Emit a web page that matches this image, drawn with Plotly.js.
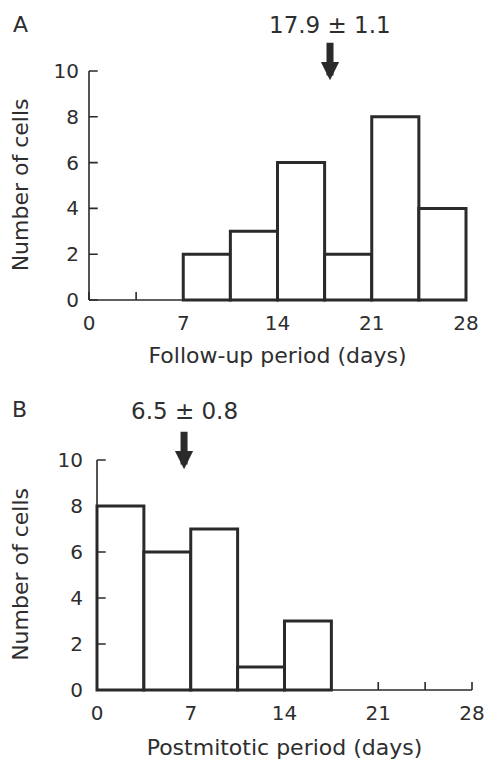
<!DOCTYPE html>
<html>
<head>
<meta charset="utf-8">
<script src="https://cdn.plot.ly/plotly-3.0.1.min.js"></script>
<style>html,body{margin:0;padding:0;background:#fff;}#chart{width:484px;height:764px;}</style>
</head>
<body>
<div id="chart"></div>
<script>
// ---- data ----
const binEdges = [0, 3.5, 7, 10.5, 14, 17.5, 21, 24.5, 28];
const countsA = [0, 0, 2, 3, 6, 2, 8, 4];      // Follow-up period
const countsB = [8, 6, 7, 1, 3, 0, 0, 0];      // Postmitotic period
const meanA = 17.9, semA = 1.1;
const meanB = 6.5, semB = 0.8;
const xTickVals = [0, 7, 14, 21, 28];
const yTickVals = [0, 2, 4, 6, 8, 10];
const panelLabels = ['A', 'B'];
const xTitles = ['Follow-up period (days)', 'Postmitotic period (days)'];
const yTitle = 'Number of cells';

// ---- styling / geometry ----
const W = 484, H = 764;
const ink = '#2a2a2a', txt = '#2e2e2e';
const fam = 'DejaVu Sans, Liberation Sans, Arial, sans-serif';
const tickFont = {family: fam, size: 20, color: txt};
const titleFont = {family: fam, size: 22, color: txt};
const noteFont = {family: fam, size: 23, color: txt};
const letterFont = {family: fam, size: 22, color: txt};
const XMAX = 28, YMAX = 10, XPAD = 0.3, YPADLO = 0.15, YPADHI = 0.2;
// pixel positions of data (0,0) and (28,10) for each panel, plus label positions
const panels = [
  {x0: 89, x1: 466, y0: 300, y1: 71, noteY: 25, letterX: 20, letterY: 24,
   yLabStand: 5, yTitleStand: 18, xTitleStand: 13},
  {x0: 97, x1: 472, y0: 690, y1: 460, noteY: 411, letterX: 19, letterY: 409,
   yLabStand: 9, yTitleStand: 22, xTitleStand: 15}
];

const centers = binEdges.slice(0, -1).map((e, i) => (e + binEdges[i + 1]) / 2);
const binW = binEdges[1] - binEdges[0];

function domains(p) {
  const ppx = (p.x1 - p.x0) / XMAX, ppy = (p.y0 - p.y1) / YMAX;
  const l = p.x0 - XPAD * ppx, r = p.x1 + XPAD * ppx;
  const b = p.y0 + YPADLO * ppy, t = p.y1 - YPADHI * ppy;
  return {x: [l / W, r / W], y: [1 - b / H, 1 - t / H]};
}

const traces = [countsA, countsB].map((c, k) => ({
  type: 'bar',
  x: centers,
  y: c.map(v => v === 0 ? null : v),
  width: c.map(() => binW),
  xaxis: k === 0 ? 'x' : 'x2',
  yaxis: k === 0 ? 'y' : 'y2',
  marker: {color: '#ffffff', line: {color: ink, width: 3}},
  hoverinfo: 'x+y',
  showlegend: false
}));

const layout = {
  width: W, height: H,
  margin: {l: 0, r: 0, t: 0, b: 0},
  paper_bgcolor: '#fff', plot_bgcolor: 'rgba(0,0,0,0)',
  font: tickFont,
  showlegend: false,
  shapes: [],
  annotations: []
};

panels.forEach((p, k) => {
  const d = domains(p);
  const xa = k === 0 ? 'xaxis' : 'xaxis2';
  const ya = k === 0 ? 'yaxis' : 'yaxis2';
  const xr = k === 0 ? 'x' : 'x2';
  const yr = k === 0 ? 'y' : 'y2';
  layout[xa] = {
    domain: d.x, anchor: yr, range: [-XPAD, XMAX + XPAD],
    showline: false, showgrid: false, zeroline: false, ticks: '',
    tickvals: xTickVals, ticktext: xTickVals.map(String),
    tickfont: tickFont, ticklabelstandoff: 6, ticklabeloverflow: 'allow',
    title: {text: xTitles[k], font: titleFont, standoff: p.xTitleStand},
    fixedrange: true
  };
  layout[ya] = {
    domain: d.y, anchor: xr, range: [-YPADLO, YMAX + YPADHI],
    showline: false, showgrid: false, zeroline: false, ticks: '',
    tickvals: yTickVals, ticktext: yTickVals.map(String),
    tickfont: tickFont, ticklabelstandoff: p.yLabStand, ticklabeloverflow: 'allow',
    title: {text: yTitle, font: titleFont, standoff: p.yTitleStand},
    fixedrange: true
  };
  const ln = {color: ink, width: 1.6};
  // axis lines
  layout.shapes.push({type: 'line', xref: xr, yref: yr, x0: 0, x1: XMAX, y0: 0, y1: 0, line: ln});
  layout.shapes.push({type: 'line', xref: xr, yref: yr, x0: 0, x1: 0, y0: 0, y1: YMAX, line: ln});
  // y ticks (inward)
  yTickVals.forEach(v => layout.shapes.push({type: 'line', xref: xr, yref: yr, x0: 0, x1: 0.65, y0: v, y1: v, line: ln}));
  // x ticks (inward) at bin edges
  binEdges.forEach(v => layout.shapes.push({type: 'line', xref: xr, yref: yr, x0: v, x1: v, y0: 0, y1: 0.35, line: ln}));

  // mean arrow + label
  const mean = k === 0 ? meanA : meanB, sem = k === 0 ? semA : semB;
  layout.annotations.push({
    xref: xr, yref: yr, x: mean, y: 9.6, ax: 0, ay: -39, axref: 'pixel', ayref: 'pixel',
    text: '', showarrow: true, arrowhead: 2, arrowwidth: 7, arrowsize: 0.52, arrowcolor: ink, standoff: 0
  });
  layout.annotations.push({
    xref: xr, yref: 'paper', x: mean, y: 1 - p.noteY / H,
    text: mean.toFixed(1) + ' \u00b1 ' + sem.toFixed(1),
    showarrow: false, font: noteFont, xanchor: 'center', yanchor: 'middle'
  });
  // panel letter
  layout.annotations.push({
    xref: 'paper', yref: 'paper', x: p.letterX / W, y: 1 - p.letterY / H,
    text: panelLabels[k], showarrow: false, font: letterFont, xanchor: 'center', yanchor: 'middle'
  });
});

Plotly.newPlot('chart', traces, layout, {displayModeBar: false, staticPlot: true});
</script>
</body>
</html>
